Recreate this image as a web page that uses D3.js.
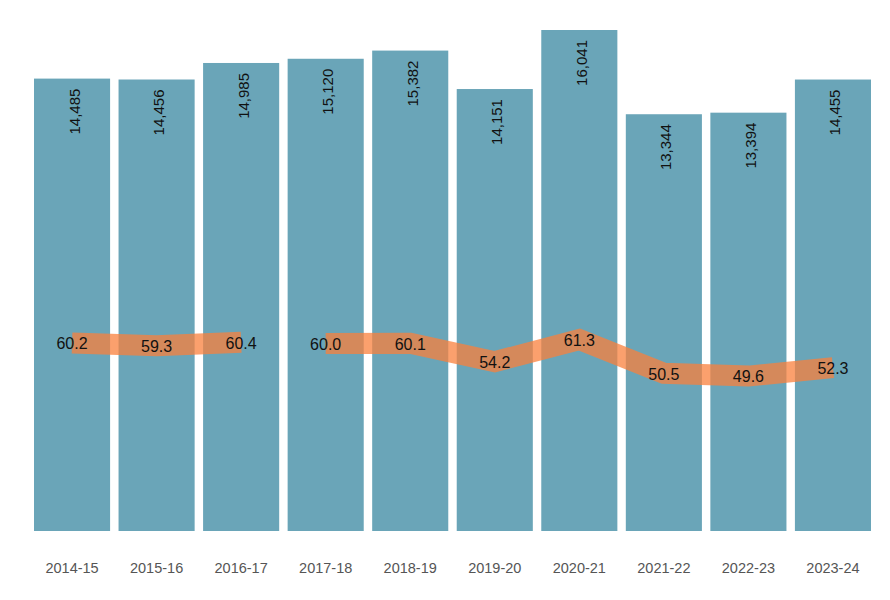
<!DOCTYPE html>
<html>
<head>
<meta charset="utf-8">
<script src="https://cdn.jsdelivr.net/npm/d3@7"></script>
<style>
  body { margin: 0; background: #fff; }
  svg { font-family: "Liberation Sans", Arial, sans-serif; }
</style>
</head>
<body>
<div id="chart"></div>
<script>
const years = ["2014-15", "2015-16", "2016-17", "2017-18", "2018-19",
               "2019-20", "2020-21", "2021-22", "2022-23", "2023-24"];
const volumes = [14485, 14456, 14985, 15120, 15382, 14151, 16041, 13344, 13394, 14455];
const rates = [60.2, 59.3, 60.4, 60.0, 60.1, 54.2, 61.3, 50.5, 49.6, 52.3];
// the line is broken before these years
const lineBreaks = ["2017-18"];

const barColor = "#6aa5b8";
const lineColor = "rgb(250,128,60)";

let dimensions = {
  width: 890,
  height: 600,
  margin: { top: 30, right: 19, bottom: 69, left: 34 },
};
dimensions.boundedWidth =
  dimensions.width - dimensions.margin.left - dimensions.margin.right;
dimensions.boundedHeight =
  dimensions.height - dimensions.margin.top - dimensions.margin.bottom;

const wrapper = d3
  .select("#chart")
  .append("svg")
  .attr("width", dimensions.width)
  .attr("height", dimensions.height);

const bounds = wrapper
  .append("g")
  .attr("transform", `translate(${dimensions.margin.left},${dimensions.margin.top})`);

// scales
const xScale = d3
  .scaleBand()
  .domain(years)
  .range([0, dimensions.boundedWidth])
  .paddingInner(0.1)
  .paddingOuter(0);

const yScale = d3
  .scaleLinear()
  .domain([0, d3.max(volumes)])
  .range([dimensions.boundedHeight, 0]);

// the rate line shares the bar axis, scaled by 100
const yRate = yScale.copy().domain([0, d3.max(volumes) / 100]);

const data = years.map((y, i) => ({ year: y, volume: volumes[i], rate: rates[i] }));
const cx = (d) => xScale(d.year) + xScale.bandwidth() / 2;

// bars
bounds
  .selectAll("rect.bar")
  .data(data)
  .enter()
  .append("rect")
  .attr("class", "bar")
  .attr("x", (d) => xScale(d.year))
  .attr("y", (d) => yScale(d.volume))
  .attr("width", xScale.bandwidth())
  .attr("height", (d) => dimensions.boundedHeight - yScale(d.volume))
  .attr("fill", barColor);

bounds
  .selectAll("text.bar-label")
  .data(data)
  .enter()
  .append("text")
  .attr("class", "bar-label")
  .attr("transform", (d) => `translate(${cx(d)},${yScale(d.volume) + 10}) rotate(-90)`)
  .attr("dy", "0.5em")
  .attr("text-anchor", "end")
  .style("font-size", "15px")
  .attr("fill", "#111")
  .text((d) => d3.format(",")(d.volume));

// rate line, split into segments
const segments = [];
data.forEach((d) => {
  if (!segments.length || lineBreaks.includes(d.year)) segments.push([]);
  segments[segments.length - 1].push(d);
});

const lineGenerator = d3
  .line()
  .x(cx)
  .y((d) => yRate(d.rate));

bounds
  .selectAll("path.rate")
  .data(segments)
  .enter()
  .append("path")
  .attr("class", "rate")
  .attr("d", lineGenerator)
  .attr("fill", "none")
  .attr("stroke", lineColor)
  .attr("stroke-opacity", 0.75)
  .attr("stroke-width", 21)
  .attr("stroke-linejoin", "miter")
  .attr("stroke-linecap", "butt");

bounds
  .selectAll("text.rate-label")
  .data(data)
  .enter()
  .append("text")
  .attr("class", "rate-label")
  .attr("x", cx)
  .attr("y", (d) => yRate(d.rate))
  .attr("dy", "0.4em")
  .attr("text-anchor", "middle")
  .style("font-size", "16px")
  .attr("fill", "#111")
  .text((d) => d.rate.toFixed(1));

// x axis (labels only)
const xAxis = bounds
  .append("g")
  .attr("transform", `translate(0,${dimensions.boundedHeight + 38})`)
  .call(d3.axisBottom(xScale).tickSize(0).tickPadding(0));

xAxis.select(".domain").remove();
xAxis
  .selectAll("text")
  .attr("dy", "0.3em")
  .style("font-size", "14.5px")
  .style("font-family", "'Liberation Sans', Arial, sans-serif")
  .attr("fill", "#555");
</script>
</body>
</html>
